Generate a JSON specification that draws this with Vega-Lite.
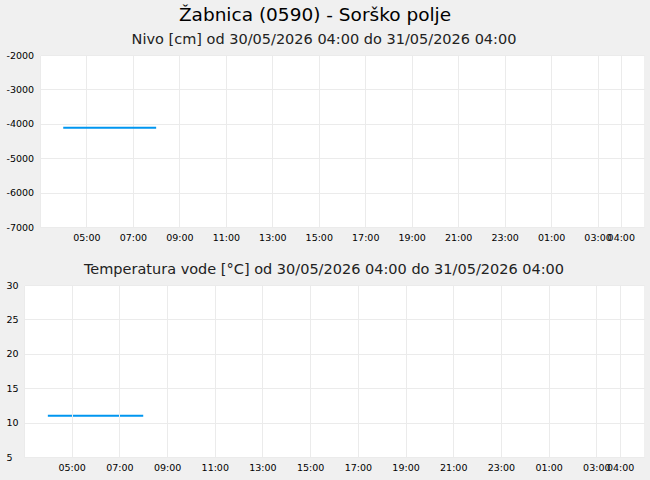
{
  "$schema": "https://vega.github.io/schema/vega-lite/v6.json",
  "background": "#f0f0f0",
  "padding": {"left": 6, "right": 6, "top": 6, "bottom": 8},
  "spacing": 19,
  "title": {
    "text": "Žabnica (0590) - Sorško polje",
    "font": "DejaVu Sans",
    "fontSize": 18.5,
    "fontWeight": "normal",
    "color": "#000000",
    "anchor": "middle",
    "offset": 7
  },
  "config": {
    "view": {"fill": "#ffffff", "stroke": null},
    "axis": {
      "grid": true,
      "gridColor": "#ebebeb",
      "domain": false,
      "ticks": false,
      "tickSize": 0,
      "labelFont": "DejaVu Sans",
      "labelFontSize": 9.5,
      "labelColor": "#000000",
      "labelOverlap": false,
      "title": null
    },
    "title": {"font": "DejaVu Sans", "fontSize": 14.5, "fontWeight": "normal", "color": "#222222", "offset": 3, "dx": -18}
  },
  "datasets": {
    "nivo": [
      {"cas": "2026-05-30T04:00:00", "vrednost": -4113},
      {"cas": "2026-05-30T05:00:00", "vrednost": -4113},
      {"cas": "2026-05-30T06:00:00", "vrednost": -4113},
      {"cas": "2026-05-30T07:00:00", "vrednost": -4113},
      {"cas": "2026-05-30T08:00:00", "vrednost": -4113}
    ],
    "temperatura": [
      {"cas": "2026-05-30T04:00:00", "vrednost": 11.0},
      {"cas": "2026-05-30T05:00:00", "vrednost": 11.0},
      {"cas": "2026-05-30T06:00:00", "vrednost": 11.0},
      {"cas": "2026-05-30T07:00:00", "vrednost": 11.0},
      {"cas": "2026-05-30T08:00:00", "vrednost": 11.0}
    ],
    "obdobje": [
      {"od": "2026-05-30T03:00:00", "do": "2026-05-31T05:00:00"}
    ]
  },
  "vconcat": [
    {
      "title": {"text": "Nivo [cm] od 30/05/2026 04:00 do 31/05/2026 04:00", "dx": -18},
      "width": 604,
      "height": 172,
      "data": {"name": "nivo"},
      "mark": {"type": "line", "color": "#0096f0", "strokeWidth": 2},
      "encoding": {
        "x": {
          "field": "cas",
          "type": "temporal",
          "scale": {"domain": [
            {"year": 2026, "month": 5, "date": 30, "hours": 3},
            {"year": 2026, "month": 5, "date": 31, "hours": 5}
          ]},
          "axis": {
            "format": "%H:%M",
            "labelPadding": 5,
            "values": [
              {"year": 2026, "month": 5, "date": 30, "hours": 3},
              {"year": 2026, "month": 5, "date": 30, "hours": 5},
              {"year": 2026, "month": 5, "date": 30, "hours": 7},
              {"year": 2026, "month": 5, "date": 30, "hours": 9},
              {"year": 2026, "month": 5, "date": 30, "hours": 11},
              {"year": 2026, "month": 5, "date": 30, "hours": 13},
              {"year": 2026, "month": 5, "date": 30, "hours": 15},
              {"year": 2026, "month": 5, "date": 30, "hours": 17},
              {"year": 2026, "month": 5, "date": 30, "hours": 19},
              {"year": 2026, "month": 5, "date": 30, "hours": 21},
              {"year": 2026, "month": 5, "date": 30, "hours": 23},
              {"year": 2026, "month": 5, "date": 31, "hours": 1},
              {"year": 2026, "month": 5, "date": 31, "hours": 3},
              {"year": 2026, "month": 5, "date": 31, "hours": 4}
            ],
            "labelExpr": "hours(datum.value) == 3 && date(datum.value) == 30 ? '' : datum.label"
          }
        },
        "y": {
          "field": "vrednost",
          "type": "quantitative",
          "scale": {"domain": [-7000, -2000], "nice": false},
          "axis": {
            "values": [-7000, -6000, -5000, -4000, -3000, -2000],
            "labelExpr": "datum.value + ''",
            "labelAlign": "left",
            "labelPadding": 34
          }
        }
      }
    },
    {
      "title": {"text": "Temperatura vode [°C] od 30/05/2026 04:00 do 31/05/2026 04:00", "dx": -18},
      "width": 604,
      "height": 172,
      "layer": [
        {
          "data": {"name": "obdobje"},
          "mark": {"type": "rect", "color": "#ffffff"},
          "encoding": {
            "x": {
              "field": "od",
              "type": "temporal",
              "scale": {
                "domain": [
                  {"year": 2026, "month": 5, "date": 30, "hours": 3},
                  {"year": 2026, "month": 5, "date": 31, "hours": 5}
                ],
                "range": [-16, 604]
              },
              "axis": {
                "format": "%H:%M",
                "labelPadding": 5,
                "zindex": 1,
                "values": [
                  {"year": 2026, "month": 5, "date": 30, "hours": 3},
                  {"year": 2026, "month": 5, "date": 30, "hours": 5},
                  {"year": 2026, "month": 5, "date": 30, "hours": 7},
                  {"year": 2026, "month": 5, "date": 30, "hours": 9},
                  {"year": 2026, "month": 5, "date": 30, "hours": 11},
                  {"year": 2026, "month": 5, "date": 30, "hours": 13},
                  {"year": 2026, "month": 5, "date": 30, "hours": 15},
                  {"year": 2026, "month": 5, "date": 30, "hours": 17},
                  {"year": 2026, "month": 5, "date": 30, "hours": 19},
                  {"year": 2026, "month": 5, "date": 30, "hours": 21},
                  {"year": 2026, "month": 5, "date": 30, "hours": 23},
                  {"year": 2026, "month": 5, "date": 31, "hours": 1},
                  {"year": 2026, "month": 5, "date": 31, "hours": 3},
                  {"year": 2026, "month": 5, "date": 31, "hours": 4}
                ],
                "labelExpr": "hours(datum.value) == 3 && date(datum.value) == 30 ? '' : datum.label"
              }
            },
            "x2": {"field": "do"}
          }
        },
        {
          "data": {"name": "temperatura"},
          "mark": {"type": "line", "color": "#0096f0", "strokeWidth": 2},
          "encoding": {
            "x": {"field": "cas", "type": "temporal"},
            "y": {
              "field": "vrednost",
              "type": "quantitative",
              "scale": {"domain": [5, 30], "nice": false},
              "axis": {
                "values": [5, 10, 15, 20, 25, 30],
                "labelExpr": "datum.value + ''",
                "labelAlign": "left",
                "labelPadding": 34,
                "zindex": 1
              }
            }
          }
        }
      ]
    }
  ]
}
